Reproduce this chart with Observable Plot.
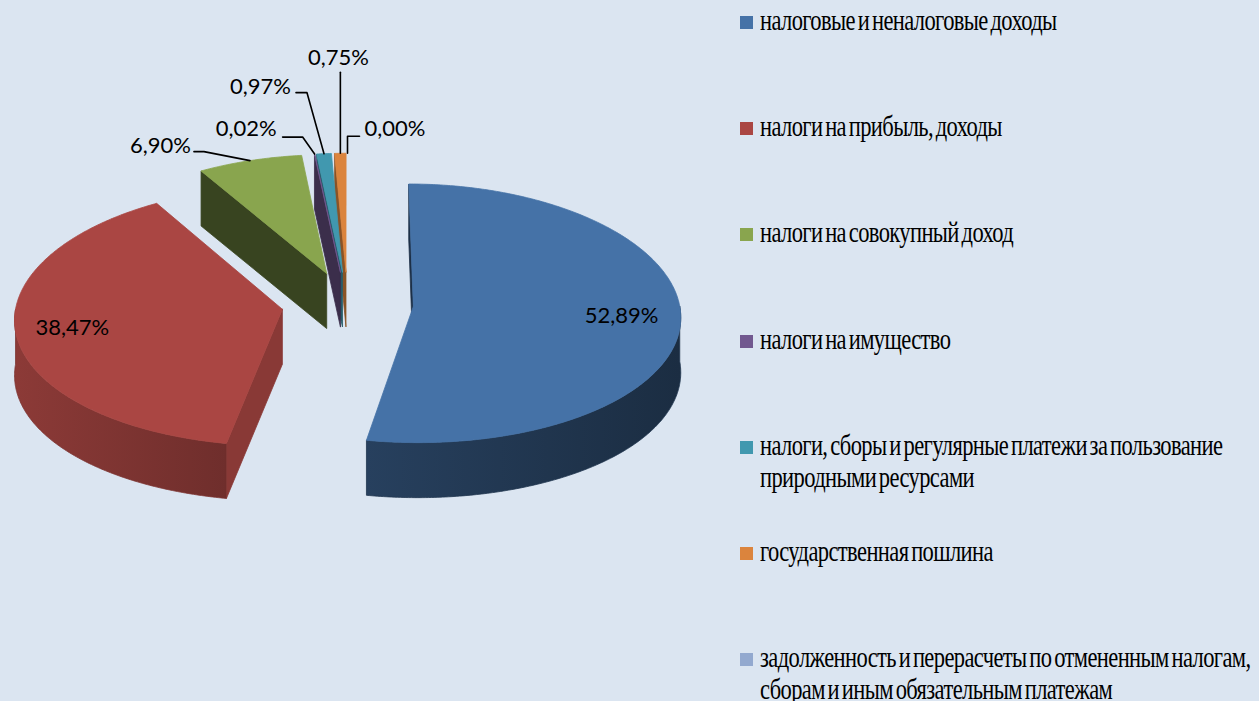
<!DOCTYPE html>
<html><head><meta charset="utf-8">
<script src="https://cdn.jsdelivr.net/npm/d3@7"></script>
<script src="https://cdn.jsdelivr.net/npm/@observablehq/plot@0.6"></script>
<style>
html,body{margin:0;padding:0;background:#dbe5f1;}
#wrap{position:relative;width:1259px;height:701px;overflow:hidden;background:#dbe5f1;}
#legend{position:absolute;left:740px;top:0;width:519px;height:701px;color:#000;}
.item{position:absolute;left:0;width:519px;}
.sw{position:absolute;left:0;top:12px;width:13px;height:13px;}
.tx{position:absolute;left:20px;top:0;width:693px;font-family:'Liberation Serif','Times New Roman',serif;font-size:30px;line-height:32px;letter-spacing:-0.8px;word-spacing:-3px;transform:scaleX(0.75);transform-origin:0 0;white-space:normal;}
</style></head>
<body><div id="wrap"><div id="chart"></div><div id="legend"></div></div>
<script>
// ---- data ----
const categories = [
  "налоговые и неналоговые доходы",
  "налоги на прибыль, доходы",
  "налоги на совокупный доход",
  "налоги на имущество",
  "налоги, сборы и регулярные платежи за пользование природными ресурсами",
  "государственная пошлина",
  "задолженность и перерасчеты по отмененным налогам, сборам и иным обязательным платежам"
];
const shares = [52.89, 38.47, 6.90, 0.02, 0.97, 0.75, 0.00];
const colors = ["#4572a7","#aa4643","#89a54e","#71588f","#4198af","#db843d","#93a9cf"];

// ---- layout / style ----
const W = 1259, H = 701;
const X0 = 347, Y0 = 303, R = 266, EXPLODE = 66, DEPTH = 55;
const drawOrder = [5, 4, 3, 6, 2, 1, 0];
const wallShade = {0: [1.6, 2.6], 1: [0.55, 1.2]};
const faceShade = {0: 2.4, 1: 0.6, 2: 2.5, 3: 1.8, 4: 1.4, 5: 1.3, 6: 1.5};
const labelLayout = {
  0: {inside: 0.78},
  1: {inside: 0.79},
  2: {elbow: [-46, -9], end: [-56, -9], anchor: "end", tdx: -3, tdy: -6},
  3: {elbow: [-12, -17], end: [-32, -17], anchor: "end", tdx: -6, tdy: -8},
  4: {elbow: [-17, -61], end: [-28, -61], anchor: "end", tdx: -5, tdy: -6},
  5: {elbow: [0, -81], end: [0, -81], anchor: "middle", tdx: -2, tdy: -14},
  6: {elbow: [0, -17], end: [12, -17], anchor: "start", tdx: 5, tdy: -7}
};

const fmt = v => d3.format(".2f")(v).replace(".", ",") + "%";

function proj(gx, gy, h = 0) {
  const fx = 1 - 0.07 * gy / R;
  const k = 0.485 - 0.026 * gy / R;
  return [X0 + gx * fx, Y0 - gy * k + h];
}

const arcs = d3.pie().sort(null).value(d => d)(shares);

function geom(i) {
  const a = arcs[i];
  const mid = (a.startAngle + a.endAngle) / 2;
  const ax = EXPLODE * Math.sin(mid), ay = EXPLODE * Math.cos(mid);
  const rim = (t, h = 0, r = R) => proj(ax + r * Math.sin(t), ay + r * Math.cos(t), h);
  const apex = (h = 0) => proj(ax, ay, h);
  return {a, mid, rim, apex};
}

function arcPts(g, s, e, h) {
  const n = Math.max(2, Math.ceil((e - s) / 0.01));
  return d3.range(n + 1).map(j => g.rim(s + (e - s) * j / n, h));
}

const faceMarks = [];
const gradDefs = [];
for (const i of drawOrder) {
  if (shares[i] <= 0) continue;
  const g = geom(i);
  const s = g.a.startAngle, e = g.a.endAngle;
  const base = d3.color(colors[i]);
  const faceCol = base.darker(faceShade[i]).formatHex();
  const faces = [];
  if (Math.sin(s) <= 1e-9) {
    faces.push({pts: [g.apex(0), g.rim(s, 0), g.rim(s, DEPTH), g.apex(DEPTH)], fill: faceCol});
  }
  if (Math.sin(e) > 1e-9) {
    faces.push({pts: [g.apex(0), g.rim(e, 0), g.rim(e, DEPTH), g.apex(DEPTH)], fill: faceCol});
  }
  const ws = Math.max(s, Math.PI / 2), we = Math.min(e, 3 * Math.PI / 2);
  if (we > ws) {
    const top = arcPts(g, ws, we, 0), bot = arcPts(g, ws, we, DEPTH).reverse();
    const sh = wallShade[i] || [1.2, 1.8];
    const id = "wall" + i;
    gradDefs.push({id, c1: base.darker(sh[0]).formatHex(), c2: base.darker(sh[1]).formatHex()});
    faces.push({pts: top.concat(bot), fill: `url(#${id})`, stroke: base.darker((sh[0] + sh[1]) / 2).formatHex()});
  }
  faces.push({pts: [g.apex(0)].concat(arcPts(g, s, e, 0)), fill: base.formatHex()});
  for (const f of faces) {
    faceMarks.push(Plot.line(f.pts.concat([f.pts[0]]), {
      x: d => d[0], y: d => d[1], curve: "linear",
      fill: f.fill, stroke: f.stroke || f.fill, strokeWidth: 0.8
    }));
  }
}

const labelMarks = [];
categories.forEach((c, i) => {
  const L = labelLayout[i];
  const g = geom(i);
  const txt = fmt(shares[i]);
  if (L.inside) {
    const p = g.rim(g.mid, 0, R * L.inside);
    labelMarks.push(Plot.text([{x: p[0], y: p[1], t: txt}], {
      x: "x", y: "y", text: "t", fontSize: 22, fontFamily: "Lato, 'Open Sans', sans-serif", fill: "#000"
    }));
  } else {
    const p = g.rim(g.mid, 0);
    const el = [p[0] + L.elbow[0], p[1] + L.elbow[1]];
    const en = [p[0] + L.end[0], p[1] + L.end[1]];
    labelMarks.push(Plot.line([p, el, en], {x: d => d[0], y: d => d[1], stroke: "#000", strokeWidth: 1.6, curve: "linear"}));
    labelMarks.push(Plot.text([{x: en[0] + L.tdx, y: en[1] + L.tdy, t: txt}], {
      x: "x", y: "y", text: "t", textAnchor: L.anchor, fontSize: 22,
      fontFamily: "Lato, 'Open Sans', sans-serif", fill: "#000"
    }));
  }
});

const chart = Plot.plot({
  width: W, height: H, margin: 0,
  x: {domain: [0, W], range: [0, W], axis: null},
  y: {domain: [0, H], range: [0, H], axis: null},
  style: {background: "transparent", overflow: "visible"},
  marks: [...faceMarks, ...labelMarks]
});
const NS = "http://www.w3.org/2000/svg";
const defs = document.createElementNS(NS, "defs");
for (const gd of gradDefs) {
  const lg = document.createElementNS(NS, "linearGradient");
  lg.setAttribute("id", gd.id);
  lg.setAttribute("x1", "0"); lg.setAttribute("x2", "1"); lg.setAttribute("y1", "0"); lg.setAttribute("y2", "0");
  [[0, gd.c1], [1, gd.c2]].forEach(([o, c]) => {
    const st = document.createElementNS(NS, "stop");
    st.setAttribute("offset", o); st.setAttribute("stop-color", c);
    lg.appendChild(st);
  });
  defs.appendChild(lg);
}
chart.insertBefore(defs, chart.firstChild);
document.getElementById("chart").appendChild(chart);

const leg = document.getElementById("legend");
categories.forEach((c, i) => {
  const it = document.createElement("div");
  it.className = "item";
  it.style.top = (4 + i * 106.2) + "px";
  const sw = document.createElement("div");
  sw.className = "sw"; sw.style.background = colors[i];
  const tx = document.createElement("div");
  tx.className = "tx"; tx.textContent = c;
  it.appendChild(sw); it.appendChild(tx);
  leg.appendChild(it);
});
</script></body></html>
